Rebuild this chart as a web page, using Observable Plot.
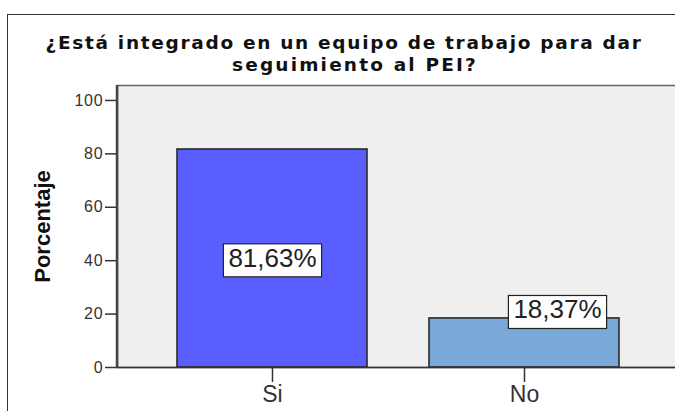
<!DOCTYPE html>
<html>
<head>
<meta charset="utf-8">
<script src="https://cdn.jsdelivr.net/npm/d3@7"></script>
<script src="https://cdn.jsdelivr.net/npm/@observablehq/plot@0.6"></script>
<style>
  html, body { margin: 0; padding: 0; background: #fff; }
  #wrap { position: relative; width: 675px; height: 411px; overflow: hidden; background: #fff; }
  #outer { position: absolute; left: 7px; top: 14px; width: 720px; height: 500px; border: 1.5px solid #333; box-sizing: border-box; }
  #title { position: absolute; left: 0; top: 31.5px; width: 720px;
           font-family: "DejaVu Sans", "Noto Sans", sans-serif; font-weight: 700; font-size: 18.5px; line-height: 22px; color: #111; }
  #title div { white-space: nowrap; text-align: center; }
  #t1 { width: 688px; }
  #t2 { width: 710px; }
  #chart { position: absolute; left: 0; top: 0; }
</style>
</head>
<body>
<div id="wrap">
  <div id="outer"></div>
  <div id="chart"></div>
  <div id="title"><div id="t1">¿Está integrado en un equipo de trabajo para dar</div><div id="t2">seguimiento al PEI?</div></div>
</div>
<script>
const categories = ["Si", "No"];
const percentages = [81.63, 18.37];
const valueLabels = ["81,63%", "18,37%"];
const barColors = ["#5a5eff", "#7aa8d8"];
const yTicks = [0, 20, 40, 60, 80, 100];
const yTitle = "Porcentaje";

const data = categories.map((c, i) => ({cat: c, value: percentages[i], label: valueLabels[i], color: barColors[i]}));

const chart = Plot.plot({
  width: 675, height: 411,
  marginTop: 85, marginBottom: 44, marginLeft: 117, marginRight: 0,
  style: {fontFamily: "'Liberation Sans', Arial, sans-serif", color: "#333", background: "transparent", overflow: "visible"},
  x: {domain: categories, range: [117, 679], paddingInner: 0.246, paddingOuter: 0.238, label: null},
  y: {domain: [0, 105.6], label: null},
  color: {type: "identity"},
  marks: [
    Plot.frame({fill: "#efefef", stroke: "#666", strokeWidth: 1.5, insetRight: -6}),
    Plot.barY(data, {x: "cat", y: "value", fill: "color", stroke: "#2a2a2a", strokeWidth: 1.6}),
    Plot.ruleY([0], {stroke: "#333", strokeWidth: 1.5}),
    Plot.axisY({ticks: yTicks, tickSize: 12, tickPadding: 2, fontSize: 16, stroke: "#333", strokeWidth: 1.5, label: null}),
    Plot.axisX({tickSize: 15, tickPadding: 3, fontSize: 23, stroke: "#333", strokeWidth: 1.5, label: null}),
    Plot.text(data, {
      x: "cat",
      y: d => d.value > 30 ? d.value / 2 : d.value + 3.1,
      text: "label",
      fontSize: 26, fill: "#222"
    }),
    Plot.text([yTitle], {frameAnchor: "left", textAnchor: "middle", dx: -75, rotate: -90, fontSize: 22, fontWeight: "bold",
      fill: "#111"})
  ]
});
document.getElementById("chart").appendChild(chart);

// fit title line widths to the reference's wide letter spacing
function fit(id, target) {
  const el = document.getElementById(id);
  const span = document.createElement("span");
  span.textContent = el.textContent;
  el.textContent = "";
  el.appendChild(span);
  const w = span.getBoundingClientRect().width;
  const n = span.textContent.length;
  const ls = Math.max(0, Math.min(3, (target - w) / n));
  el.style.letterSpacing = ls + "px";
}
fit("t1", 597);
fit("t2", 246);

const svg = d3.select(chart);
// slightly wider y tick labels as in the reference
svg.selectAll("g[aria-label='y-axis tick label'] text").attr("letter-spacing", 0.8);

// y axis line (thick, left edge of plot)
const ys = chart.scale("y");
svg.append("line")
  .attr("x1", 117).attr("x2", 117)
  .attr("y1", ys.range[1]).attr("y2", ys.range[0])
  .attr("stroke", "#444").attr("stroke-width", 2.5);

// boxes behind value labels; the small bar's label sits offset to the right
const labelGroup = svg.selectAll("g[aria-label='text']").nodes()[0];
d3.select(labelGroup).selectAll("text").each(function(d, i) {
  const t = d3.select(this);
  if (i === 1) t.attr("dx", 33);
  const b = this.getBBox();
  d3.select(this.parentNode).insert("rect", () => this)
    .attr("x", b.x - 5).attr("y", b.y + 1)
    .attr("width", b.width + 10).attr("height", b.height + 3)
    .attr("transform", t.attr("transform"))
    .attr("fill", "#fff").attr("stroke", "#222").attr("stroke-width", 1.2);
});
</script>
</body>
</html>
